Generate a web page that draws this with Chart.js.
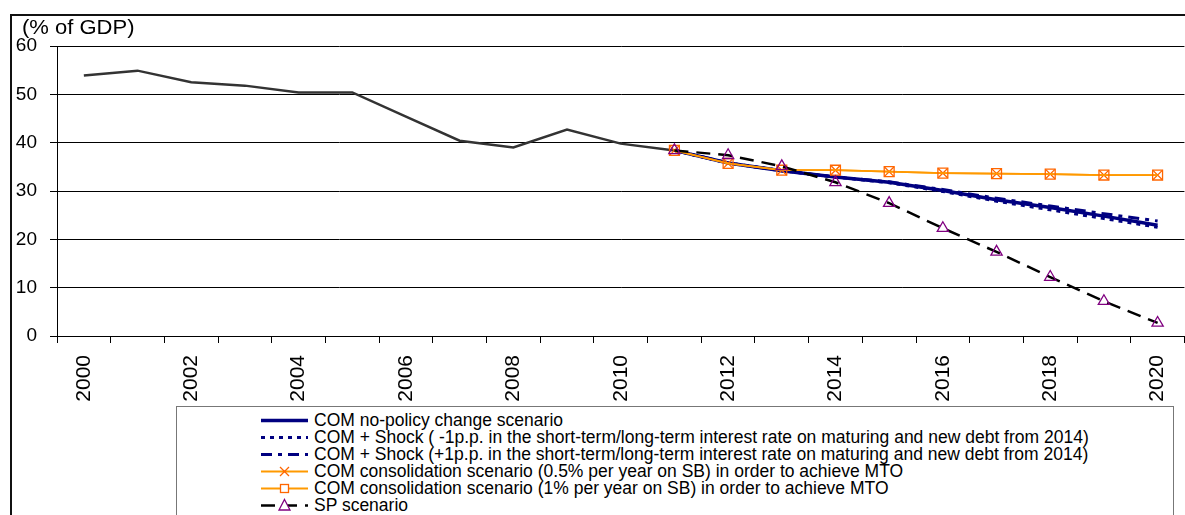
<!DOCTYPE html>
<html>
<head>
<meta charset="utf-8">
<script src="https://cdn.jsdelivr.net/npm/chart.js@4/dist/chart.umd.min.js"></script>
<style>
  html, body { margin: 0; padding: 0; overflow: hidden; background: #fff; }
  #wrap { position: relative; width: 1185px; height: 515px; overflow: hidden; font-family: "Liberation Sans", Arial, sans-serif; color: #000; }
  #frame { position: absolute; left: 10px; top: 14px; width: 1300px; height: 600px; border-left: 2px solid #111; border-top: 2px solid #111; }
  #unit { position: absolute; left: 22px; top: 15px; font-size: 20px; line-height: 24px; white-space: nowrap; transform: scaleX(1.1); transform-origin: 0 0; }
  #chart { position: absolute; left: 0; top: 0; }
  #legend { position: absolute; left: 176px; top: 406px; width: 996px; height: 130px; border: 1px solid #777; background: #fff; }
  .row { position: absolute; left: 84px; height: 17px; white-space: nowrap; font-size: 17.5px; line-height: 17px; }
  .row canvas { position: absolute; left: 0; top: 0; }
  .row span { position: absolute; left: 53px; top: 0; }
</style>
</head>
<body>
<div id="wrap">
  <div id="frame"></div>
  <canvas id="chart" width="1195" height="406"></canvas>
  <div id="unit">(% of GDP)</div>
  <div id="legend"></div>
</div>
<script>
// ---- DATA ----
const years = ['2000', '2001', '2002', '2003', '2004', '2005', '2006', '2007', '2008', '2009', '2010',
               '2011', '2012', '2013', '2014', '2015', '2016', '2017', '2018', '2019', '2020'];
const yearTicks = ['2000', '', '2002', '', '2004', '', '2006', '', '2008', '', '2010',
                   '', '2012', '', '2014', '', '2016', '', '2018', '', '2020'];

const historical   = [53.9, 54.9, 52.5, 51.8, 50.4, 50.4, 45.4, 40.4, 39.0, 42.7, 39.8,
                      38.4, null, null, null, null, null, null, null, null, null];
const comNoPolicy  = [null, null, null, null, null, null, null, null, null, null, null,
                      38.4, 35.8, 34.2, 32.9, 31.8, 30.1, 28.2, 26.6, 24.8, 22.9];
const comShockLow  = [null, null, null, null, null, null, null, null, null, null, null,
                      38.4, 35.8, 34.2, 32.9, 31.7, 29.9, 27.9, 26.1, 24.3, 22.5];
const comShockHigh = [null, null, null, null, null, null, null, null, null, null, null,
                      38.4, 35.8, 34.2, 32.9, 31.9, 30.3, 28.5, 26.9, 25.3, 23.8];
const comCons05    = [null, null, null, null, null, null, null, null, null, null, null,
                      38.4, 35.7, 34.3, 34.3, 34.0, 33.7, 33.6, 33.5, 33.3, 33.3];
const comCons1     = [null, null, null, null, null, null, null, null, null, null, null,
                      38.4, 35.7, 34.3, 34.3, 34.0, 33.7, 33.6, 33.5, 33.3, 33.3];
const spScenario   = [null, null, null, null, null, null, null, null, null, null, null,
                      38.4, 37.4, 35.1, 31.8, 27.5, 22.3, 17.4, 12.2, 7.2, 2.7];

const legendNames = [
  'COM no-policy change scenario',
  'COM + Shock ( -1p.p. in the short-term/long-term interest rate on maturing and new debt from 2014)',
  'COM + Shock (+1p.p. in the short-term/long-term interest rate on maturing and new debt from 2014)',
  'COM consolidation scenario (0.5% per year on SB) in order to achieve MTO',
  'COM consolidation scenario (1% per year on SB) in order to achieve MTO',
  'SP scenario'
];

const FONT = '"Liberation Sans", Arial, sans-serif';
const NAVY = '#000080';
const ORANGE = '#FF9900';
const ORANGE_MK = '#FF6600';
const PURPLE = '#800080';

function lineDs(label, data, color, width, dash, order, extra) {
    return Object.assign({
        label: label,
        data: data,
        borderColor: color,
        backgroundColor: color,
        borderWidth: width,
        borderDash: dash,
        pointRadius: 0,
        pointHoverRadius: 0,
        tension: 0,
        spanGaps: false,
        order: order
    }, extra || {});
}

const datasets = [
    lineDs('Historical', historical, '#333333', 2.5, [], 6),
    lineDs(legendNames[0], comNoPolicy, NAVY, 3.5, [], 3),
    lineDs(legendNames[1], comShockLow, NAVY, 3, [4, 5], 4),
    lineDs(legendNames[2], comShockHigh, NAVY, 3, [11, 6, 4, 6], 5),
    lineDs(legendNames[3], comCons05, ORANGE, 1.8, [], 2, {
        pointStyle: 'crossRot', pointRadius: 7, pointBorderColor: ORANGE_MK, pointBorderWidth: 1.3
    }),
    lineDs(legendNames[4], comCons1, ORANGE, 1.8, [], 1, {
        pointStyle: 'rect', pointRadius: 7, pointBorderColor: ORANGE_MK, pointBackgroundColor: 'rgba(0,0,0,0)', pointBorderWidth: 1.3
    }),
    lineDs(legendNames[5], spScenario, '#000000', 2.5, [14, 8], 0, {
        pointStyle: 'triangle', pointRadius: 6.5, pointBorderColor: PURPLE, pointBackgroundColor: 'rgba(0,0,0,0)', pointBorderWidth: 1.3
    })
];

new Chart(document.getElementById('chart'), {
    type: 'line',
    data: { labels: years, datasets: datasets },
    options: {
        responsive: false,
        animation: false,
        layout: { padding: { top: 46, right: 4, left: 0, bottom: 0 } },
        plugins: { legend: { display: false }, tooltip: { enabled: false }, title: { display: false } },
        scales: {
            x: {
                type: 'category',
                offset: true,
                grid: { offset: true, drawOnChartArea: false, drawTicks: true, tickLength: 7, color: '#000', lineWidth: 1 },
                border: { display: true, color: '#000', width: 1 },
                ticks: {
                    autoSkip: false, maxRotation: 90, minRotation: 90, padding: 12, color: '#000',
                    font: { family: FONT, size: 21 },
                    callback: (v, i) => yearTicks[i]
                },
                afterFit: s => { s.height = 70; }
            },
            y: {
                min: 0, max: 60,
                grid: { color: '#000', lineWidth: 1, tickLength: 7, drawTicks: true },
                border: { display: true, color: '#000', width: 1 },
                ticks: { stepSize: 10, padding: 13, color: '#000', font: { family: FONT, size: 19 } },
                afterFit: s => { s.width = 57; }
            }
        }
    }
});

// ---- LEGENDA ----
function drawSample(cv, ds) {
    const ctx = cv.getContext('2d');
    const cx = 23.5, cy = 8.5;
    ctx.strokeStyle = ds.borderColor;
    ctx.lineWidth = ds.borderWidth;
    ctx.setLineDash(ds.borderDash && ds.borderDash.length ? ds.borderDash.slice(0, 4) : []);
    ctx.beginPath();
    ctx.moveTo(0, cy);
    ctx.lineTo(47, cy);
    ctx.stroke();
    ctx.setLineDash([]);
    if (!ds.pointStyle) return;
    ctx.fillStyle = '#fff';
    ctx.strokeStyle = ds.pointBorderColor;
    ctx.lineWidth = ds.pointBorderWidth;
    ctx.beginPath();
    if (ds.pointStyle === 'rect') {
        ctx.fillRect(cx - 4.5, cy - 4.5, 9, 9);
        ctx.strokeRect(cx - 4, cy - 4, 8, 8);
    } else if (ds.pointStyle === 'crossRot') {
        ctx.moveTo(cx - 4.5, cy - 4.5); ctx.lineTo(cx + 4.5, cy + 4.5);
        ctx.moveTo(cx + 4.5, cy - 4.5); ctx.lineTo(cx - 4.5, cy + 4.5);
        ctx.stroke();
    } else if (ds.pointStyle === 'triangle') {
        ctx.moveTo(cx, cy - 6); ctx.lineTo(cx + 5.5, cy + 4.5); ctx.lineTo(cx - 5.5, cy + 4.5); ctx.closePath();
        ctx.fill(); ctx.stroke();
    }
}

const legendEl = document.getElementById('legend');
datasets.slice(1).forEach((ds, i) => {
    const row = document.createElement('div');
    row.className = 'row';
    row.style.top = (4.5 + 17 * i) + 'px';
    const cv = document.createElement('canvas');
    cv.width = 47; cv.height = 17;
    row.appendChild(cv);
    const sp = document.createElement('span');
    sp.textContent = ds.label;
    row.appendChild(sp);
    legendEl.appendChild(row);
    drawSample(cv, ds);
});
</script>
</body>
</html>
